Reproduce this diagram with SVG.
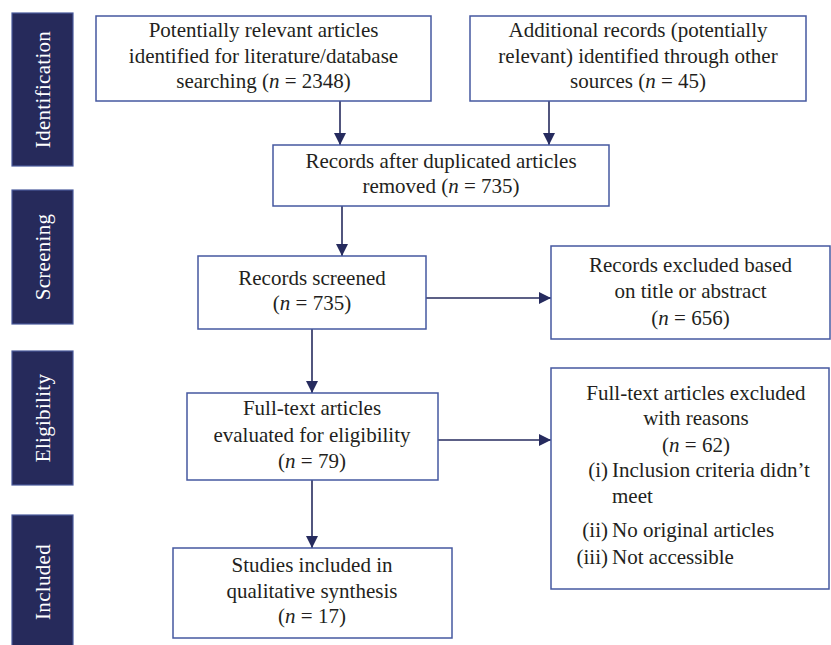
<svg xmlns="http://www.w3.org/2000/svg" width="831" height="645" viewBox="0 0 831 645">
<style>
.bar{fill:#262a5b;stroke:#4a5a9c;stroke-width:1.2}
.bt{font-family:"Liberation Serif",serif;font-size:21px;fill:#ffffff;text-anchor:middle;letter-spacing:0.3px}
.box{fill:#ffffff;stroke:#4558a0;stroke-width:1.5}
.t{font-family:"Liberation Serif",serif;font-size:21px;fill:#231f20;text-anchor:middle}
.l{font-family:"Liberation Serif",serif;font-size:21px;fill:#231f20}
.e{text-anchor:end}
.c{stroke:#262b5e;stroke-width:1.6;fill:none;marker-end:url(#ah)}
</style>
<defs>
<marker id="ah" viewBox="0 0 12 12" refX="12" refY="6" markerWidth="12" markerHeight="12" markerUnits="userSpaceOnUse" orient="auto">
<path d="M0,0 L12,6 L0,12 Z" fill="#262b5e"/>
</marker>
</defs>
<rect width="831" height="645" fill="#ffffff"/>
<g id="phase-identification"><rect class="bar" x="12" y="13" width="61" height="153"/><text class="bt" transform="translate(50,89.5) rotate(-90)">Identification</text></g>
<g id="phase-screening"><rect class="bar" x="12" y="190" width="61" height="134"/><text class="bt" transform="translate(50,257) rotate(-90)">Screening</text></g>
<g id="phase-eligibility"><rect class="bar" x="12" y="351" width="61" height="134"/><text class="bt" transform="translate(50,418) rotate(-90)">Eligibility</text></g>
<g id="phase-included"><rect class="bar" x="12" y="515" width="61" height="135"/><text class="bt" transform="translate(50,582) rotate(-90)">Included</text></g>
<g id="connectors">
<line class="c" x1="340" y1="101" x2="340" y2="145"/>
<line class="c" x1="549" y1="101" x2="549" y2="145"/>
<line class="c" x1="342" y1="206" x2="342" y2="256"/>
<line class="c" x1="426" y1="298" x2="551" y2="298"/>
<line class="c" x1="312" y1="329" x2="312" y2="393"/>
<line class="c" x1="438" y1="440" x2="551" y2="440"/>
<line class="c" x1="312" y1="480" x2="312" y2="548"/>
</g>
<g id="node-database"><rect class="box" x="96" y="16" width="335" height="85"/>
<text class="t" x="263.5" y="37">Potentially relevant articles</text>
<text class="t" x="263.5" y="63">identified for literature/database</text>
<text class="t" x="263.5" y="88">searching (<tspan font-style="italic">n</tspan> = 2348)</text></g>
<g id="node-other"><rect class="box" x="470" y="16" width="336" height="85"/>
<text class="t" x="638" y="37">Additional records (potentially</text>
<text class="t" x="638" y="63">relevant) identified through other</text>
<text class="t" x="638" y="88">sources (<tspan font-style="italic">n</tspan> = 45)</text></g>
<g id="node-dedup"><rect class="box" x="273" y="145" width="336" height="61"/>
<text class="t" x="441" y="168">Records after duplicated articles</text>
<text class="t" x="441" y="193">removed (<tspan font-style="italic">n</tspan> = 735)</text></g>
<g id="node-screened"><rect class="box" x="198" y="256" width="228" height="73"/>
<text class="t" x="312" y="285">Records screened</text>
<text class="t" x="312" y="310">(<tspan font-style="italic">n</tspan> = 735)</text></g>
<g id="node-excluded-title"><rect class="box" x="551" y="246" width="279" height="93"/>
<text class="t" x="690.5" y="272">Records excluded based</text>
<text class="t" x="690.5" y="298">on title or abstract</text>
<text class="t" x="690.5" y="325">(<tspan font-style="italic">n</tspan> = 656)</text></g>
<g id="node-fulltext"><rect class="box" x="187" y="393" width="251" height="87"/>
<text class="t" x="312" y="415">Full-text articles</text>
<text class="t" x="312" y="442">evaluated for eligibility</text>
<text class="t" x="312" y="468">(<tspan font-style="italic">n</tspan> = 79)</text></g>
<g id="node-excluded-fulltext"><rect class="box" x="551" y="368" width="278" height="221"/>
<text class="t" x="696" y="400">Full-text articles excluded</text>
<text class="t" x="696" y="425">with reasons</text>
<text class="t" x="696" y="452">(<tspan font-style="italic">n</tspan> = 62)</text>
<text class="l e" x="608" y="477">(i)</text><text class="l" x="612" y="477">Inclusion criteria didn’t</text>
<text class="l" x="612" y="503">meet</text>
<text class="l e" x="608" y="537">(ii)</text><text class="l" x="612" y="537">No original articles</text>
<text class="l e" x="608" y="564">(iii)</text><text class="l" x="612" y="564">Not accessible</text></g>
<g id="node-included"><rect class="box" x="173" y="548" width="279" height="90"/>
<text class="t" x="312" y="572">Studies included in</text>
<text class="t" x="312" y="598">qualitative synthesis</text>
<text class="t" x="312" y="623">(<tspan font-style="italic">n</tspan> = 17)</text></g>
</svg>
